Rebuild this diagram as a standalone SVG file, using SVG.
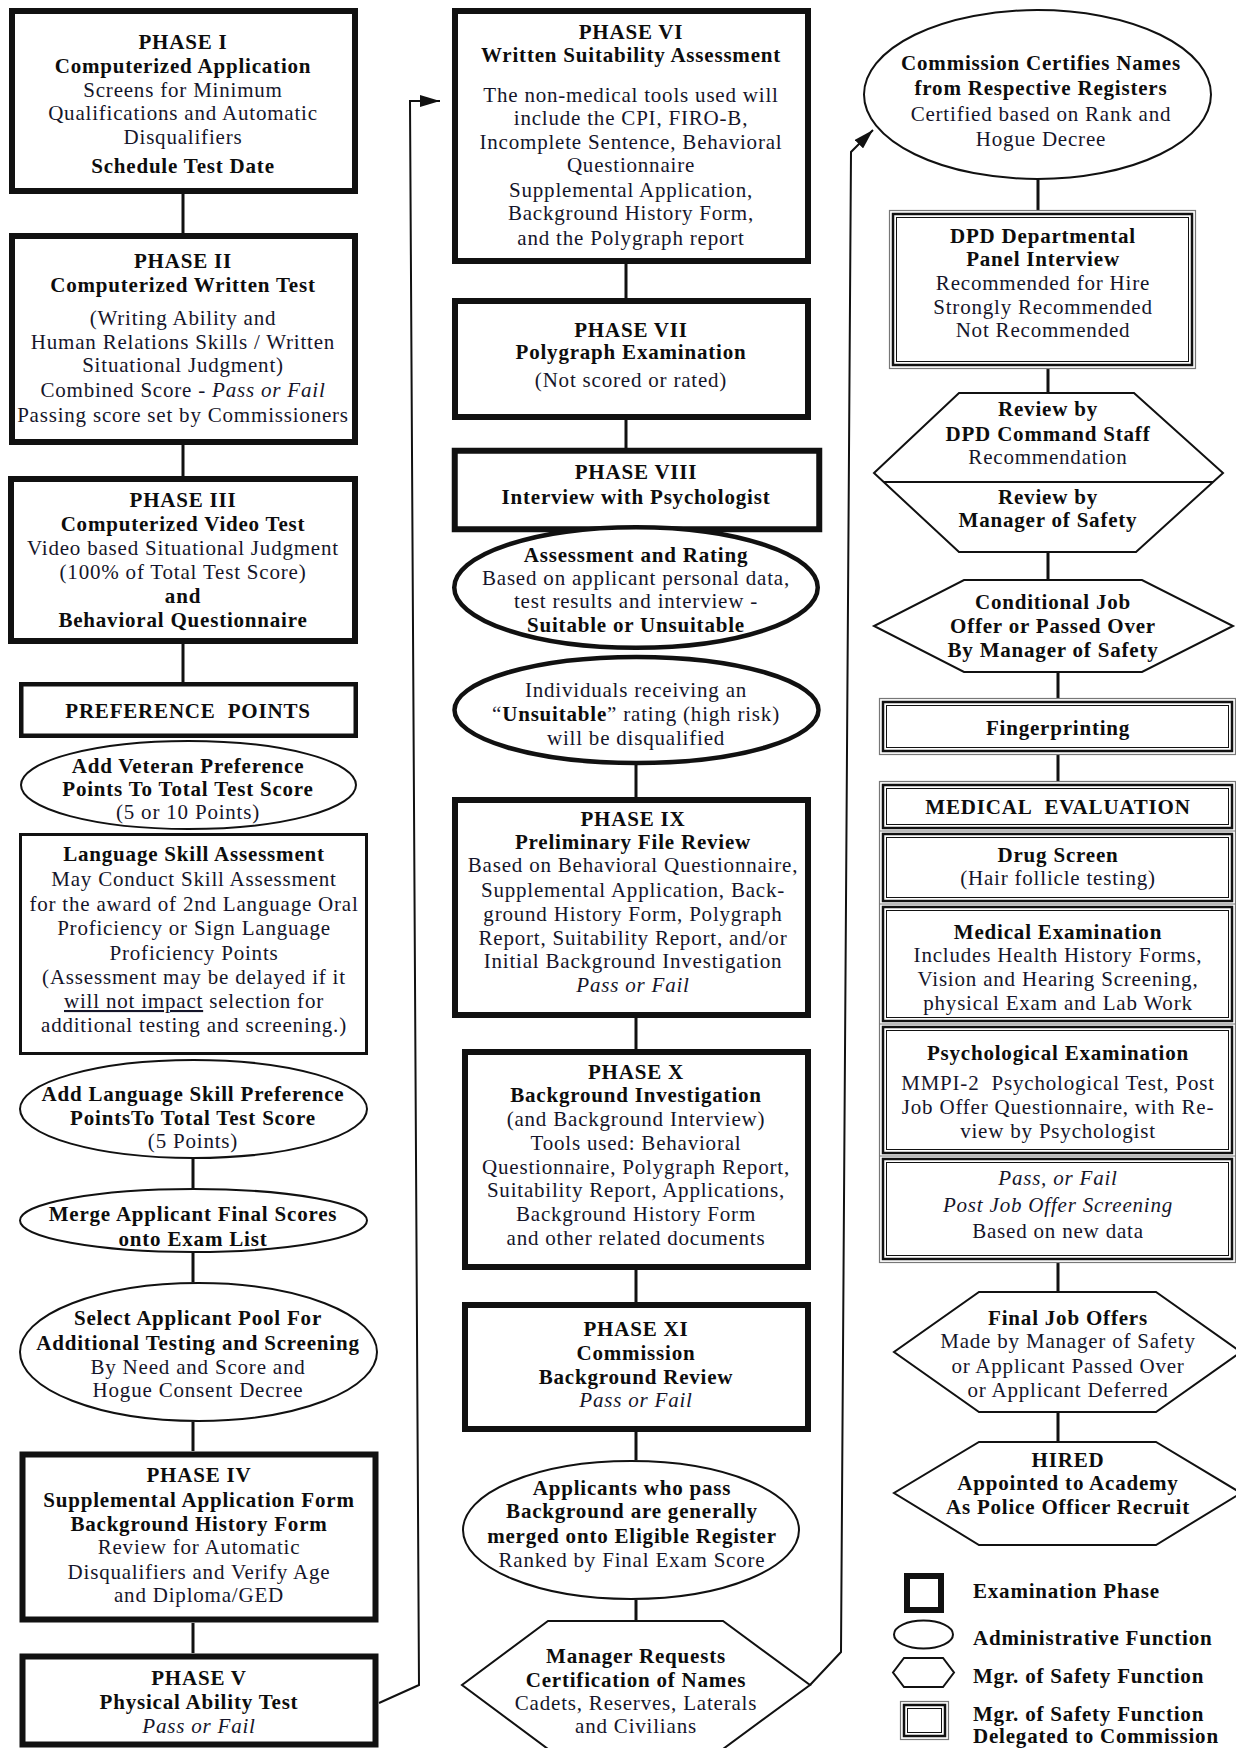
<svg xmlns="http://www.w3.org/2000/svg" width="1236" height="1748" viewBox="0 0 1236 1748">
<style>
text{font-family:"Liberation Serif","Times New Roman",serif;font-size:21px;letter-spacing:.8px;text-anchor:middle;fill:#15152a}
.b{font-weight:bold;fill:#0d0d0d}
.i{font-style:italic}
.lg{text-anchor:start}
.ph{fill:#fff;stroke:#111;stroke-width:6}
.bx{fill:#fff;stroke:#111}
.el{fill:#fff;stroke:#111;stroke-width:2}
.elt{fill:#fff;stroke:#111;stroke-width:4.5}
.hx{fill:#fff;stroke:#111;stroke-width:2}
.g1{fill:#fff;stroke:#777;stroke-width:1.2}
.g2{fill:none;stroke:#111;stroke-width:2.5}
.g3{fill:none;stroke:#111;stroke-width:1}
.cn{fill:none;stroke:#111;stroke-width:3}
.ar{fill:none;stroke:#111;stroke-width:2}
</style>
<defs>
<marker id="ah" markerWidth="20" markerHeight="12" refX="20" refY="6" orient="auto" markerUnits="userSpaceOnUse"><path d="M0,0 L20,6 L0,12 z" fill="#111"/></marker>
</defs>
<rect width="1236" height="1748" fill="#fff"/>

<g id="connectors">
<path class="cn" d="M183,194V233M183,445V476M183,644V682M193,1159V1188M193,1253V1282M193,1422V1451M193,1623V1653"/>
<path class="cn" d="M626,264V298M626,420V448M636,765V797M636,1018V1049M636,1270V1302M636,1432V1460M636,1600V1621"/>
<path class="cn" d="M1038,180V210M1048,369V393M1048,552V580M1058,672V698M1058,755V781M1058,1263V1292M1058,1412V1442"/>
<path class="ar" d="M379,1703 L419,1685 L410,101 L440,101" marker-end="url(#ah)"/>
<path class="ar" d="M810,1685 L841,1652 L851,152 L873,130" marker-end="url(#ah)"/>
</g>

<g id="phase1">
<rect class="ph" x="12" y="11" width="343" height="180"/>
<text class="b" x="183" y="49">PHASE I</text>
<text class="b" x="183" y="73">Computerized Application</text>
<text x="183" y="97">Screens for Minimum</text>
<text x="183" y="120">Qualifications and Automatic</text>
<text x="183" y="144">Disqualifiers</text>
<text class="b" x="183" y="173">Schedule Test Date</text>
</g>

<g id="phase2">
<rect class="ph" x="12" y="236" width="343" height="206"/>
<text class="b" x="183" y="268">PHASE II</text>
<text class="b" x="183" y="292">Computerized Written Test</text>
<text x="183" y="325">(Writing Ability and</text>
<text x="183" y="349">Human Relations Skills / Written</text>
<text x="183" y="372">Situational Judgment)</text>
<text x="183" y="397">Combined Score - <tspan class="i">Pass or Fail</tspan></text>
<text x="183" y="422">Passing score set by Commissioners</text>
</g>

<g id="phase3">
<rect class="ph" x="11" y="479" width="344" height="162"/>
<text class="b" x="183" y="507">PHASE III</text>
<text class="b" x="183" y="531">Computerized Video Test</text>
<text x="183" y="555">Video based Situational Judgment</text>
<text x="183" y="579">(100% of Total Test Score)</text>
<text class="b" x="183" y="603">and</text>
<text class="b" x="183" y="627">Behavioral Questionnaire</text>
</g>

<g id="preference">
<rect class="bx" stroke-width="4.5" x="21.25" y="684.25" width="334.5" height="51.5"/>
<text class="b" x="188" y="718">PREFERENCE&#160; POINTS</text>
</g>

<g id="veteran">
<ellipse class="el" cx="188.5" cy="785" rx="167.5" ry="44"/>
<text class="b" x="188" y="773">Add Veteran Preference</text>
<text class="b" x="188" y="796">Points To Total Test Score</text>
<text x="188" y="819">(5 or 10 Points)</text>
</g>

<g id="language-assessment">
<rect class="bx" stroke-width="3" x="20.5" y="834.5" width="346" height="219"/>
<text class="b" x="194" y="861">Language Skill Assessment</text>
<text x="194" y="886">May Conduct Skill Assessment</text>
<text x="194" y="911">for the award of 2nd Language Oral</text>
<text x="194" y="935">Proficiency or Sign Language</text>
<text x="194" y="960">Proficiency Points</text>
<text x="194" y="984">(Assessment may be delayed if it</text>
<text x="194" y="1008"><tspan text-decoration="underline">will not impact</tspan> selection for</text>
<text x="194" y="1032">additional testing and screening.)</text>
</g>

<g id="language-points">
<ellipse class="el" cx="193.5" cy="1109" rx="173.5" ry="49"/>
<text class="b" x="193" y="1101">Add Language Skill Preference</text>
<text class="b" x="193" y="1125">PointsTo Total Test Score</text>
<text x="193" y="1148">(5 Points)</text>
</g>

<g id="merge">
<ellipse class="el" cx="193.5" cy="1220.5" rx="173.5" ry="31.5"/>
<text class="b" x="193" y="1221">Merge Applicant Final Scores</text>
<text class="b" x="193" y="1246">onto Exam List</text>
</g>

<g id="select-pool">
<ellipse class="el" cx="198.5" cy="1352" rx="178.5" ry="69"/>
<text class="b" x="198" y="1325">Select Applicant Pool For</text>
<text class="b" x="198" y="1350">Additional Testing and Screening</text>
<text x="198" y="1374">By Need and Score and</text>
<text x="198" y="1397">Hogue Consent Decree</text>
</g>

<g id="phase4">
<rect class="ph" stroke-width="7" x="22.5" y="1454.5" width="353" height="165"/>
<text class="b" x="199" y="1482">PHASE IV</text>
<text class="b" x="199" y="1507">Supplemental Application Form</text>
<text class="b" x="199" y="1531">Background History Form</text>
<text x="199" y="1554">Review for Automatic</text>
<text x="199" y="1579">Disqualifiers and Verify Age</text>
<text x="199" y="1602">and Diploma/GED</text>
</g>

<g id="phase5">
<rect class="ph" stroke-width="7" x="22.5" y="1656.5" width="353" height="88"/>
<text class="b" x="199" y="1685">PHASE V</text>
<text class="b" x="199" y="1709">Physical Ability Test</text>
<text class="i" x="199" y="1733">Pass or Fail</text>
</g>

<g id="phase6">
<rect class="ph" x="455" y="11" width="353" height="250"/>
<text class="b" x="631" y="39">PHASE VI</text>
<text class="b" x="631" y="62">Written Suitability Assessment</text>
<text x="631" y="102">The non-medical tools used will</text>
<text x="631" y="125">include the CPI, FIRO-B,</text>
<text x="631" y="149">Incomplete Sentence, Behavioral</text>
<text x="631" y="172">Questionnaire</text>
<text x="631" y="197">Supplemental Application,</text>
<text x="631" y="220">Background History Form,</text>
<text x="631" y="245">and the Polygraph report</text>
</g>

<g id="phase7">
<rect class="ph" x="455" y="301" width="353" height="116"/>
<text class="b" x="631" y="337">PHASE VII</text>
<text class="b" x="631" y="359">Polygraph Examination</text>
<text x="631" y="387">(Not scored or rated)</text>
</g>

<g id="phase8">
<rect class="ph" stroke-width="5.5" x="454.75" y="450.75" width="364.5" height="78.5"/>
<text class="b" x="636" y="479">PHASE VIII</text>
<text class="b" x="636" y="504">Interview with Psychologist</text>
</g>

<g id="assessment">
<ellipse class="elt" cx="636" cy="587.5" rx="181.75" ry="60.25"/>
<text class="b" x="636" y="562">Assessment and Rating</text>
<text x="636" y="585">Based on applicant personal data,</text>
<text x="636" y="608">test results and interview -</text>
<text class="b" x="636" y="632">Suitable or Unsuitable</text>
</g>

<g id="unsuitable">
<ellipse class="elt" cx="636.5" cy="710" rx="182" ry="53"/>
<text x="636" y="697">Individuals receiving an</text>
<text x="636" y="721">“<tspan class="b">Unsuitable</tspan>” rating (high risk)</text>
<text x="636" y="745">will be disqualified</text>
</g>

<g id="phase9">
<rect class="ph" x="455" y="800" width="353" height="215"/>
<text class="b" x="633" y="826">PHASE IX</text>
<text class="b" x="633" y="849">Preliminary File Review</text>
<text x="633" y="872">Based on Behavioral Questionnaire,</text>
<text x="633" y="897">Supplemental Application, Back-</text>
<text x="633" y="921">ground History Form, Polygraph</text>
<text x="633" y="945">Report, Suitability Report, and/or</text>
<text x="633" y="968">Initial Background Investigation</text>
<text class="i" x="633" y="992">Pass or Fail</text>
</g>

<g id="phase10">
<rect class="ph" x="465" y="1052" width="343" height="215"/>
<text class="b" x="636" y="1079">PHASE X</text>
<text class="b" x="636" y="1102">Background Investigation</text>
<text x="636" y="1126">(and Background Interview)</text>
<text x="636" y="1150">Tools used: Behavioral</text>
<text x="636" y="1174">Questionnaire, Polygraph Report,</text>
<text x="636" y="1197">Suitability Report, Applications,</text>
<text x="636" y="1221">Background History Form</text>
<text x="636" y="1245">and other related documents</text>
</g>

<g id="phase11">
<rect class="ph" x="465" y="1305" width="343" height="124"/>
<text class="b" x="636" y="1336">PHASE XI</text>
<text class="b" x="636" y="1360">Commission</text>
<text class="b" x="636" y="1384">Background Review</text>
<text class="i" x="636" y="1407">Pass or Fail</text>
</g>

<g id="eligible-register">
<ellipse class="el" cx="631" cy="1530" rx="168" ry="69"/>
<text class="b" x="632" y="1495">Applicants who pass</text>
<text class="b" x="632" y="1518">Background are generally</text>
<text class="b" x="632" y="1543">merged onto Eligible Register</text>
<text x="632" y="1567">Ranked by Final Exam Score</text>
</g>

<g id="manager-requests">
<polygon class="hx" points="548,1621 723,1621 810,1685 723,1749 548,1749 462,1685"/>
<text class="b" x="636" y="1663">Manager Requests</text>
<text class="b" x="636" y="1687">Certification of Names</text>
<text x="636" y="1710">Cadets, Reserves, Laterals</text>
<text x="636" y="1733">and Civilians</text>
</g>

<g id="commission-certifies">
<ellipse class="el" cx="1037.5" cy="94.5" rx="173.5" ry="84.5"/>
<text class="b" x="1041" y="70">Commission Certifies Names</text>
<text class="b" x="1041" y="95">from Respective Registers</text>
<text x="1041" y="121">Certified based on Rank and</text>
<text x="1041" y="146">Hogue Decree</text>
</g>

<g id="panel-interview">
<rect class="g1" x="889.5" y="210.5" width="306" height="158"/>
<rect class="g2" x="893" y="214" width="299" height="151"/>
<rect class="g3" x="896.5" y="217.5" width="292" height="144"/>
<text class="b" x="1043" y="243">DPD Departmental</text>
<text class="b" x="1043" y="266">Panel Interview</text>
<text x="1043" y="290">Recommended for Hire</text>
<text x="1043" y="314">Strongly Recommended</text>
<text x="1043" y="337">Not Recommended</text>
</g>

<g id="review">
<polygon class="hx" points="959,393 1134,393 1223,473 1136,552 959,552 874,473"/>
<line x1="884" y1="482" x2="1213" y2="482" stroke="#111" stroke-width="2"/>
<text class="b" x="1048" y="416">Review by</text>
<text class="b" x="1048" y="441">DPD Command Staff</text>
<text x="1048" y="464">Recommendation</text>
<text class="b" x="1048" y="504">Review by</text>
<text class="b" x="1048" y="527">Manager of Safety</text>
</g>

<g id="conditional-offer">
<polygon class="hx" points="964,580 1142,580 1233,626 1142,672 964,672 874,626"/>
<text class="b" x="1053" y="609">Conditional Job</text>
<text class="b" x="1053" y="633">Offer or Passed Over</text>
<text class="b" x="1053" y="657">By Manager of Safety</text>
</g>

<g id="fingerprinting">
<rect class="g1" x="879.5" y="698.5" width="356" height="56"/>
<rect class="g2" x="883" y="702" width="349" height="49"/>
<rect class="g3" x="886.5" y="705.5" width="342" height="42"/>
<text class="b" x="1058" y="735">Fingerprinting</text>
</g>

<g id="medical-evaluation">
<rect class="g1" x="879.5" y="781.5" width="356" height="481"/>
<path d="M879,831H1236M879,904H1236M879,1024H1236M879,1156H1236" stroke="#777" stroke-width="1.2"/>
<rect class="g2" x="883" y="785" width="349" height="43"/>
<rect class="g3" x="886.5" y="788.5" width="342" height="36"/>
<rect class="g2" x="883" y="834" width="349" height="67"/>
<rect class="g3" x="886.5" y="837.5" width="342" height="60"/>
<rect class="g2" x="883" y="907" width="349" height="114"/>
<rect class="g3" x="886.5" y="910.5" width="342" height="107"/>
<rect class="g2" x="883" y="1027" width="349" height="126"/>
<rect class="g3" x="886.5" y="1030.5" width="342" height="119"/>
<rect class="g2" x="883" y="1159" width="349" height="100"/>
<rect class="g3" x="886.5" y="1162.5" width="342" height="93"/>
<text class="b" x="1058" y="814">MEDICAL&#160; EVALUATION</text>
<text class="b" x="1058" y="862">Drug Screen</text>
<text x="1058" y="885">(Hair follicle testing)</text>
<text class="b" x="1058" y="939">Medical Examination</text>
<text x="1058" y="962">Includes Health History Forms,</text>
<text x="1058" y="986">Vision and Hearing Screening,</text>
<text x="1058" y="1010">physical Exam and Lab Work</text>
<text class="b" x="1058" y="1060">Psychological Examination</text>
<text x="1058" y="1090">MMPI-2&#160; Psychological Test, Post</text>
<text x="1058" y="1114">Job Offer Questionnaire, with Re-</text>
<text x="1058" y="1138">view by Psychologist</text>
<text class="i" x="1058" y="1185">Pass, or Fail</text>
<text class="i" x="1058" y="1212">Post Job Offer Screening</text>
<text x="1058" y="1238">Based on new data</text>
</g>

<g id="final-offers">
<polygon class="hx" points="979,1292 1156,1292 1241,1352 1156,1412 979,1412 894,1352"/>
<text class="b" x="1068" y="1325">Final Job Offers</text>
<text x="1068" y="1348">Made by Manager of Safety</text>
<text x="1068" y="1373">or Applicant Passed Over</text>
<text x="1068" y="1397">or Applicant Deferred</text>
</g>

<g id="hired">
<polygon class="hx" points="979,1442 1156,1442 1241,1493 1156,1545 979,1545 894,1493"/>
<text class="b" x="1068" y="1467">HIRED</text>
<text class="b" x="1068" y="1490">Appointed to Academy</text>
<text class="b" x="1068" y="1514">As Police Officer Recruit</text>
</g>

<g id="legend">
<rect class="ph" x="907" y="1576" width="34" height="34"/>
<ellipse class="el" cx="923.5" cy="1634.5" rx="29.5" ry="14"/>
<polygon class="hx" points="904,1658 943,1658 954,1672.5 943,1687 904,1687 893,1672.5"/>
<rect class="g1" x="900.5" y="1701.5" width="48" height="38"/>
<rect class="g2" x="904" y="1705" width="41" height="31"/>
<rect class="g3" x="907.5" y="1708.5" width="34" height="24"/>
<text class="b lg" x="973" y="1598">Examination Phase</text>
<text class="b lg" x="973" y="1645">Administrative Function</text>
<text class="b lg" x="973" y="1683">Mgr. of Safety Function</text>
<text class="b lg" x="973" y="1721">Mgr. of Safety Function</text>
<text class="b lg" x="973" y="1743">Delegated to Commission</text>
</g>
</svg>
